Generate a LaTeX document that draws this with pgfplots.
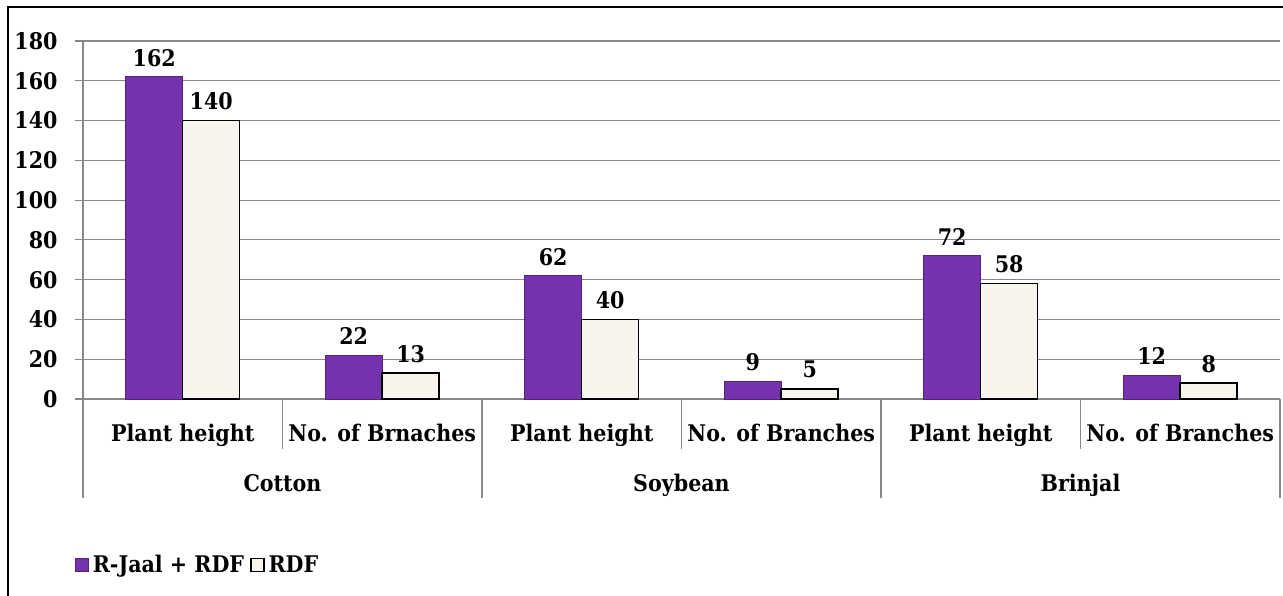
\documentclass[border=0pt]{standalone}
\usepackage{fontspec}
\setmainfont{DejaVu Serif Condensed}
\usepackage{pgfplots}
\pgfplotsset{compat=1.18}
\definecolor{barpurple}{RGB}{118,50,172}
\definecolor{barcream}{RGB}{246,244,236}
\definecolor{gridgray}{RGB}{136,136,136}
\begin{document}
\begin{tikzpicture}[font=\fontsize{23}{27}\selectfont\bfseries]
\path[use as bounding box] (0,0) rectangle (1283bp,596bp);
\draw[black, line width=2.5bp] (8bp,0) -- (8bp,589bp) -- (1283bp,589bp);
\begin{axis}[
  at={(83bp,197bp)}, anchor=south west,
  scale only axis, width=1197bp, height=358bp,
  xmin=-0.5, xmax=5.5, ymin=0, ymax=180,
  clip=false,
  ybar=0pt, bar width=57bp,
  axis x line*=bottom, axis y line*=left,
  axis line style={gridgray, line width=1.2bp},
  ytick={0,20,...,180},
  ymajorgrids, major grid style={gridgray, line width=1.2bp},
  tick align=outside, major tick length=8bp,
  ytick style={gridgray, line width=1.2bp},
  xtick={0,...,5}, xtick style={draw=none},
  xticklabels={Plant height, No. of Brnaches, Plant height, No. of Branches, Plant height, No. of Branches},
  xticklabel style={anchor=base, yshift=-34bp},
  yticklabel style={xshift=-14bp},
  /pgf/number format/assume math mode=true,
  nodes near coords,
  nodes near coords style={anchor=south, inner sep=0pt, yshift=10bp},
  legend columns=2,
  legend style={at={(axis description cs:0,0)}, anchor=west, xshift=-8bp, yshift=-166bp,
    draw=none, fill=none, inner sep=0pt, nodes={inner xsep=4bp},
    /tikz/every even column/.append style={column sep=2bp}},
  legend image code/.code={\draw[#1] (0bp,-6.5bp) rectangle (13bp,6.5bp);},
]
\addplot[fill=barpurple, draw=barpurple!70!black, line width=0.6bp]
  coordinates {(0,162) (1,22) (2,62) (3,9) (4,72) (5,12)};
\addplot[fill=barcream, draw=black, line width=1.5bp]
  coordinates {(0,140) (1,13) (2,40) (3,5) (4,58) (5,8)};
\legend{R-Jaal + RDF, RDF}
\draw[gridgray, line width=1.2bp] (axis cs:0.5,0) -- ([yshift=-50bp]axis cs:0.5,0);
\draw[gridgray, line width=1.2bp] (axis cs:2.5,0) -- ([yshift=-50bp]axis cs:2.5,0);
\draw[gridgray, line width=1.2bp] (axis cs:4.5,0) -- ([yshift=-50bp]axis cs:4.5,0);
\draw[gridgray, line width=1.2bp] (axis cs:-0.5,0) -- ([yshift=-99bp]axis cs:-0.5,0);
\draw[gridgray, line width=1.2bp] (axis cs:1.5,0) -- ([yshift=-99bp]axis cs:1.5,0);
\draw[gridgray, line width=1.2bp] (axis cs:3.5,0) -- ([yshift=-99bp]axis cs:3.5,0);
\draw[gridgray, line width=1.2bp] (axis cs:5.5,0) -- ([yshift=-99bp]axis cs:5.5,0);
\node[anchor=base] at (axis cs:0.5,0) [yshift=-92bp] {Cotton};
\node[anchor=base] at (axis cs:2.5,0) [yshift=-92bp] {Soybean};
\node[anchor=base] at (axis cs:4.5,0) [yshift=-92bp] {Brinjal};
\end{axis}
\end{tikzpicture}
\end{document}
